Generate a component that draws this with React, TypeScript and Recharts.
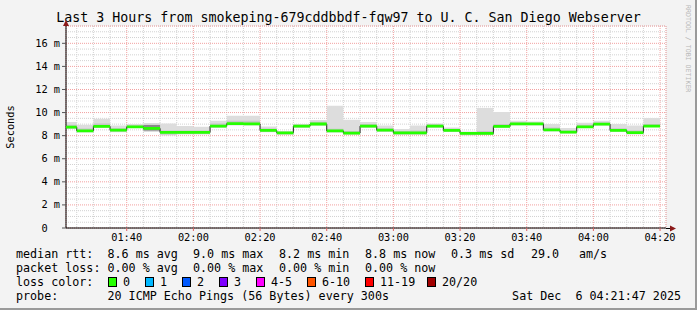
import { ComposedChart, Area, Line, XAxis, YAxis, CartesianGrid } from "recharts";

// step start times (5 min rrd steps), last entry closes the final step
const TIMES = [
  "01:21:47", "01:25", "01:30", "01:35", "01:40", "01:45", "01:50", "01:55",
  "02:00", "02:05", "02:10", "02:15", "02:20", "02:25", "02:30", "02:35",
  "02:40", "02:45", "02:50", "02:55", "03:00", "03:05", "03:10", "03:15",
  "03:20", "03:25", "03:30", "03:35", "03:40", "03:45", "03:50", "03:55",
  "04:00", "04:05", "04:10", "04:15", "04:20",
];
const START = "01:21:47";
const END = "04:21:47";
const X_TICKS = ["01:40", "02:00", "02:20", "02:40", "03:00", "03:20", "03:40", "04:00", "04:20"];
const Y_TICKS = [0, 2, 4, 6, 8, 10, 12, 14, 16];

// median rtt in ms per step
const MEDIAN = [
  8.74, 8.42, 8.81, 8.47, 8.77, 8.63, 8.28, 8.28, 8.28, 8.83, 9.04, 9.02,
  8.45, 8.25, 8.83, 9.01, 8.41, 8.22, 8.83, 8.47, 8.24, 8.24, 8.83, 8.45,
  8.19, 8.19, 8.8, 9.03, 9.03, 8.5, 8.3, 8.77, 9.0, 8.45, 8.26, 8.83,
];
// smoke: full spread of the 20 pings
const SMOKE_HI = [
  9.18, 8.94, 9.46, 8.89, 9.0, 9.09, 9.06, 8.83, 8.77, 9.29, 9.72, 9.72,
  8.8, 8.37, 9.0, 9.35, 10.59, 9.38, 9.18, 8.89, 8.57, 8.89, 9.06, 8.71,
  8.37, 10.39, 10.04, 9.29, 9.23, 9.0, 8.66, 9.12, 9.29, 9.0, 8.89, 9.52,
];
const SMOKE_LO = [
  8.6, 8.37, 8.66, 8.3, 8.66, 8.31, 8.02, 8.1, 8.1, 8.66, 8.89, 8.89,
  8.3, 8.08, 8.66, 8.89, 8.3, 8.1, 8.66, 8.37, 8.08, 8.08, 8.66, 8.37,
  8.02, 8.08, 8.7, 8.89, 8.89, 8.37, 8.2, 8.66, 8.89, 8.37, 8.1, 8.75,
];
// denser smoke near the median
const INNER_HI = [
  8.95, 8.62, 9.05, 8.65, 8.9, 8.95, 8.45, 8.45, 8.45, 9.05, 9.3, 9.3,
  8.62, 8.35, 8.95, 9.2, 8.6, 8.4, 9.0, 8.65, 8.4, 8.45, 8.98, 8.6,
  8.32, 8.4, 9.0, 9.15, 9.12, 8.7, 8.45, 8.95, 9.15, 8.65, 8.45, 9.0,
];
const INNER_LO = [
  8.62, 8.3, 8.7, 8.35, 8.68, 8.4, 8.1, 8.15, 8.15, 8.72, 8.95, 8.92,
  8.33, 8.12, 8.72, 8.9, 8.3, 8.12, 8.72, 8.37, 8.12, 8.12, 8.72, 8.35,
  8.08, 8.08, 8.7, 8.92, 8.92, 8.4, 8.2, 8.66, 8.9, 8.37, 8.15, 8.75,
];
// heavy smoke (only around 01:45 - 01:50)
const DARK_HI = [
  8.74, 8.42, 8.81, 8.47, 8.77, 8.92, 8.28, 8.28, 8.28, 8.83, 9.04, 9.02,
  8.45, 8.25, 8.83, 9.01, 8.41, 8.22, 8.83, 8.47, 8.24, 8.24, 8.83, 8.45,
  8.19, 8.19, 8.8, 9.03, 9.03, 8.5, 8.3, 8.77, 9.0, 8.45, 8.26, 8.83,
];
const DARK_LO = [
  8.74, 8.42, 8.81, 8.47, 8.77, 8.45, 8.28, 8.28, 8.28, 8.83, 9.04, 9.02,
  8.45, 8.25, 8.83, 9.01, 8.41, 8.22, 8.83, 8.47, 8.24, 8.24, 8.83, 8.45,
  8.19, 8.19, 8.8, 9.03, 9.03, 8.5, 8.3, 8.77, 9.0, 8.45, 8.26, 8.83,
];

const LOSS = [
  { label: "0", color: "#26ff00", x: 108 },
  { label: "1", color: "#00b8ff", x: 145 },
  { label: "2", color: "#0059ff", x: 182 },
  { label: "3", color: "#7e00ff", x: 219 },
  { label: "4-5", color: "#ff00ff", x: 256 },
  { label: "6-10", color: "#ff5500", x: 307 },
  { label: "11-19", color: "#ff0000", x: 365 },
  { label: "20/20", color: "#a10000", x: 427 },
];

const toMin = (s: string) => {
  const [h, m, sec] = s.split(":").map(Number);
  return h * 60 + m + (sec || 0) / 60;
};
const fmt = (v: number) => {
  const h = Math.floor(v / 60);
  const m = Math.round(v - h * 60);
  return `${String(h).padStart(2, "0")}:${String(m).padStart(2, "0")}`;
};

const rows = TIMES.map((t, i) => {
  const j = Math.min(i, MEDIAN.length - 1);
  return {
    t: toMin(t),
    med: MEDIAN[j],
    smoke: [SMOKE_LO[j], SMOKE_HI[j]],
    inner: [INNER_LO[j], INNER_HI[j]],
    dark: [DARK_LO[j], DARK_HI[j]],
    green: [MEDIAN[j] - 0.12, MEDIAN[j] + 0.12],
  };
});

const x0 = toMin(START);
const x1 = toMin(END);
const minorX: number[] = [];
for (let v = 85; v < x1; v += 5) if (v % 20 !== 0) minorX.push(v);
const majorX = X_TICKS.map(toMin);
const minorY: number[] = [];
for (let v = 0.5; v < 17.5; v += 0.5) if (v % 2 !== 0) minorY.push(v);

const MONO = "'DejaVu Sans Mono', monospace";

const YTick = (props: any) => {
  const { x, y, payload } = props;
  const v = payload.value as number;
  return (
    <text x={x} y={y + 3.5} textAnchor="end" fontFamily={MONO} fontSize={10.3} fill="#000">
      {v === 0 ? "0\u00a0\u00a0" : `${v} m`}
    </text>
  );
};

export default function App() {
  return (
    <div style={{ position: "absolute", left: 0, top: 0, width: 697, height: 310, background: "#f3f3f3" }}>
      <ComposedChart
        width={697}
        height={310}
        data={rows}
        margin={{ top: 26, right: 31, bottom: 58, left: 16 }}
      >
        {/* minor grid: 5 min / 0.5 ms */}
        <CartesianGrid xAxisId="minX" yAxisId="minY" fill="#ffffff" stroke="#d2d2d2" strokeDasharray="1 1" />
        {/* major grid follows the labelled axes */}
        <CartesianGrid xAxisId="main" yAxisId="main" stroke="#f2a0a0" strokeDasharray="1 1" />
        <XAxis xAxisId="minX" dataKey="t" type="number" domain={[x0, x1]} allowDataOverflow ticks={minorX} interval={0} hide />
        <YAxis yAxisId="minY" type="number" domain={[0, 17.5]} allowDataOverflow ticks={minorY} interval={0} hide />
        <XAxis
          xAxisId="main"
          dataKey="t"
          type="number"
          domain={[x0, x1]}
          allowDataOverflow
          ticks={majorX}
          interval={0}
          tickFormatter={fmt}
          height={24}
          tickSize={3}
          tickMargin={3}
          axisLine={{ stroke: "#000" }}
          tickLine={{ stroke: "#e06060" }}
          tick={{ fontFamily: MONO, fontSize: 10.3, fill: "#000" }}
        />
        <YAxis
          yAxisId="main"
          type="number"
          domain={[0, 17.5]}
          allowDataOverflow
          ticks={Y_TICKS}
          interval={0}
          width={50}
          tickSize={4}
          tickMargin={2}
          axisLine={{ stroke: "#000" }}
          tickLine={{ stroke: "#555" }}
          tick={<YTick />}
        />
        <Area xAxisId="main" yAxisId="main" dataKey="smoke" type="stepAfter" fill="#dddddd" fillOpacity={1} stroke="none" isAnimationActive={false} />
        <Area xAxisId="main" yAxisId="main" dataKey="inner" type="stepAfter" fill="#c6c6c6" fillOpacity={1} stroke="none" isAnimationActive={false} />
        <Area xAxisId="main" yAxisId="main" dataKey="dark" type="stepAfter" fill="#8a8a8a" fillOpacity={1} stroke="none" isAnimationActive={false} />
        <Line xAxisId="main" yAxisId="main" dataKey="med" type="stepAfter" stroke="#202020" strokeWidth={1} dot={false} isAnimationActive={false} />
        <Area xAxisId="main" yAxisId="main" zIndex={600} dataKey="green" type="stepAfter" fill="#26ff00" fillOpacity={1} stroke="none" isAnimationActive={false} />
      </ComposedChart>

      <svg
        width={697}
        height={310}
        style={{ position: "absolute", left: 0, top: 0, pointerEvents: "none" }}
        fontFamily={MONO}
      >
        <text x={348.5} y={21.5} textAnchor="middle" fontSize={13.3} fill="#000">
          Last 3 Hours from smokeping-679cddbbdf-fqw97 to U. C. San Diego Webserver
        </text>
        <text x={14} y={127} textAnchor="middle" fontSize={10.3} fill="#000" transform="rotate(-90 14 127)">
          Seconds
        </text>
        <text x={686} y={5} fontSize={6.6} fill="#b8b8b8" transform="rotate(90 686 5)">
          RRDTOOL / TOBI OETIKER
        </text>
        {/* axis arrows */}
        <line x1={66} y1={26} x2={66} y2={22} stroke="#000" />
        <polygon points="63,26 69,26 66,20" fill="#8b1a1a" />
        <line x1={666} y1={228.5} x2={671} y2={228.5} stroke="#000" />
        <polygon points="670,225.5 670,231.5 676,228.5" fill="#8b1a1a" />

        <g fontSize={11.7} fill="#000" style={{ whiteSpace: "pre" }}>
          <text x={16} y={258}>median rtt:</text>
          <text x={107.5} y={258}>8.6 ms avg</text>
          <text x={193} y={258}>9.0 ms max</text>
          <text x={279} y={258}>8.2 ms min</text>
          <text x={365} y={258}>8.8 ms now</text>
          <text x={451} y={258}>0.3 ms sd</text>
          <text x={531} y={258}>29.0</text>
          <text x={579} y={258}>am/s</text>

          <text x={16} y={272}>packet loss:</text>
          <text x={107.5} y={272}>0.00 % avg</text>
          <text x={193} y={272}>0.00 % max</text>
          <text x={279} y={272}>0.00 % min</text>
          <text x={365} y={272}>0.00 % now</text>

          <text x={16} y={286}>loss color:</text>
          {LOSS.map((l) => (
            <g key={l.label}>
              <rect x={l.x + 0.5} y={277.5} width={8} height={9} fill={l.color} stroke="#000" strokeWidth={1} />
              <text x={l.x + 15} y={286}>{l.label}</text>
            </g>
          ))}

          <text x={16} y={300}>probe:</text>
          <text x={107.5} y={300}>20 ICMP Echo Pings (56 Bytes) every 300s</text>
          <text x={681} y={300} textAnchor="end" xmlSpace="preserve">Sat Dec  6 04:21:47 2025</text>
        </g>
        <line x1={0} y1={309} x2={697} y2={309} stroke="#9a9a9a" strokeWidth={2} />
        <line x1={696} y1={0} x2={696} y2={310} stroke="#9a9a9a" strokeWidth={2} />
      </svg>
    </div>
  );
}
